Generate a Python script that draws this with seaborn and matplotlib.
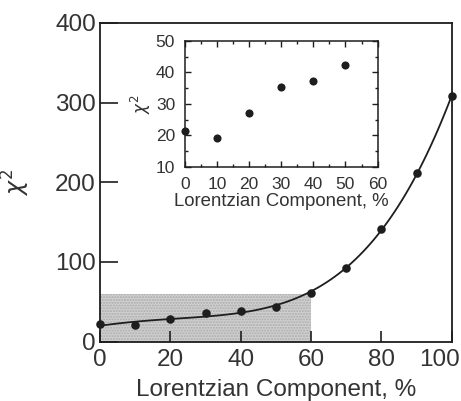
import matplotlib
matplotlib.use("Agg")
import matplotlib.pyplot as plt
import matplotlib.patches as mpatches
import matplotlib.transforms as mtransforms
from matplotlib.ticker import MultipleLocator
import numpy as np
import pandas as pd
import seaborn as sns

# Goodness of fit versus Lorentzian fraction of the line shape
lorentzian_pct = [0, 10, 20, 30, 40, 50, 60, 70, 80, 90, 100]
chi_square = [22.0, 20.5, 28.0, 36.0, 38.0, 43.0, 61.0, 93.0, 141.0, 211.0, 308.0]

# Zoomed range shown in the inset
inset_pct = [0, 10, 20, 30, 40, 50]
inset_chi = [21.5, 19.0, 27.0, 35.5, 37.3, 42.3]

main_xticks = [0, 20, 40, 60, 80, 100]
main_yticks = [0, 100, 200, 300, 400]
inset_xticks = [0, 10, 20, 30, 40, 50, 60]
inset_yticks = [10, 20, 30, 40, 50]

# Highlighted low-chi-square region (x extent, y extent)
region_x = [0, 60]
region_y = [0, 60]

df = pd.DataFrame({"pct": lorentzian_pct, "chi": chi_square})
df_in = pd.DataFrame({"pct": inset_pct, "chi": inset_chi})

sns.set_theme(style="ticks")
plt.rcParams["font.family"] = ["Liberation Sans", "DejaVu Sans"]

ink = "#1e1e1e"
txt = "#333333"
fig = plt.figure(figsize=(4.61, 4.01), dpi=100)
ax = fig.add_axes([0.217, 0.148, 0.763, 0.795])

ax.add_patch(mpatches.Rectangle((region_x[0], region_y[0]),
                                region_x[1] - region_x[0], region_y[1] - region_y[0],
                                facecolor="#d0d0d0", edgecolor="#ababab",
                                hatch="......", linewidth=0, zorder=0))

sns.regplot(data=df, x="pct", y="chi", order=4, ci=None, scatter=False,
            truncate=True, line_kws={"color": ink, "lw": 1.3}, ax=ax)
sns.scatterplot(data=df, x="pct", y="chi", color=ink, s=38, edgecolor=ink,
                linewidth=0, ax=ax, zorder=4, clip_on=False)

ax.set_xlim(0, 100)
ax.set_ylim(0, 400)
ax.set_xticks(main_xticks)
ax.set_yticks(main_yticks)
ax.tick_params(axis="x", direction="in", length=8, width=1.2, colors=ink,
               labelsize=17.5, pad=5)
ax.tick_params(axis="y", direction="in", length=13, width=1.2, colors=ink,
               labelsize=17.5, pad=3)
for lab in ax.get_xticklabels() + ax.get_yticklabels():
    lab.set_color(txt)
# keep the right-most tick label inside the canvas
last = ax.get_xticklabels()[-1]
last.set_horizontalalignment("right")
last.set_transform(last.get_transform() +
                   mtransforms.ScaledTranslation(6 / 72, 0, fig.dpi_scale_trans))

ax.set_xlabel("Lorentzian Component, %", fontsize=17.5, color=txt, labelpad=6)
ax.set_ylabel(r"$\chi^2$", fontsize=17, color=txt, labelpad=17)
for sp in ax.spines.values():
    sp.set_visible(True)
    sp.set_linewidth(1.3)
    sp.set_color(ink)

# Inset: detail of the 0-60 % range
ins = fig.add_axes([0.401, 0.584, 0.418, 0.314])
sns.scatterplot(data=df_in, x="pct", y="chi", color=ink, s=34, edgecolor=ink,
                linewidth=0, ax=ins, zorder=4, clip_on=False)
ins.set_xlim(0, 60)
ins.set_ylim(10, 50)
ins.set_xticks(inset_xticks)
ins.set_yticks(inset_yticks)
ins.xaxis.set_minor_locator(MultipleLocator(5))
ins.yaxis.set_minor_locator(MultipleLocator(5))
ins.tick_params(which="both", direction="in", top=True, right=True,
                colors=ink, labelsize=12.5, width=1.0)
ins.tick_params(which="major", length=4, pad=7)
ins.tick_params(which="minor", length=2)
for lab in ins.get_xticklabels() + ins.get_yticklabels():
    lab.set_color(txt)
ins.set_xlabel("Lorentzian Component, %", fontsize=13.4, color=txt, labelpad=1)
ins.set_ylabel(r"$\chi^2$", fontsize=12, color=txt, labelpad=2)
for sp in ins.spines.values():
    sp.set_visible(True)
    sp.set_linewidth(1.1)
    sp.set_color(ink)

fig.savefig("out.png", dpi=100, facecolor="white")
